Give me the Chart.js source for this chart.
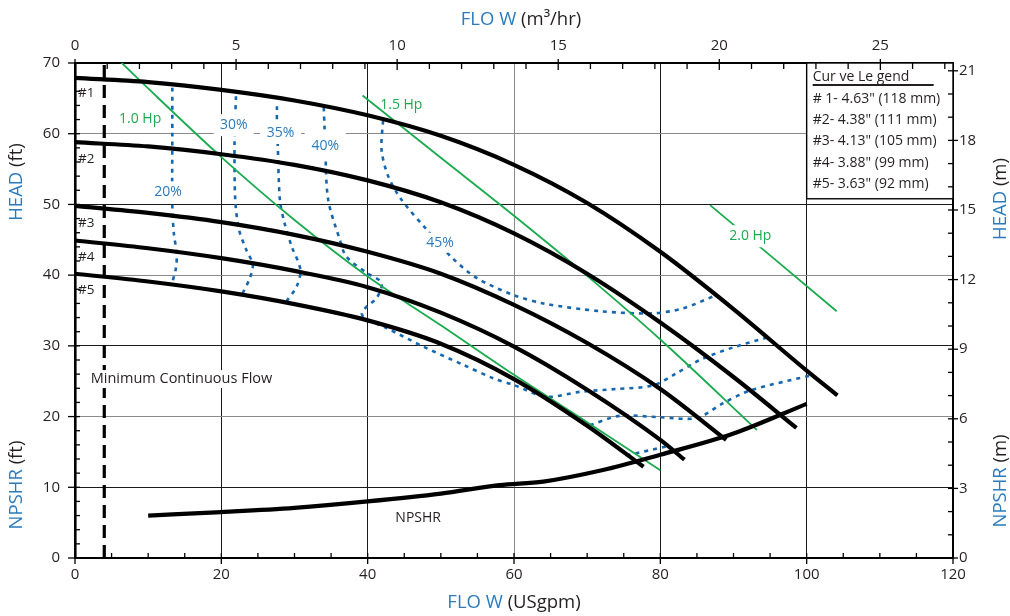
<!DOCTYPE html>
<html><head><meta charset="utf-8">
<script src="https://cdn.jsdelivr.net/npm/chart.js@4.4.0/dist/chart.umd.min.js"></script>
<style>html,body{margin:0;padding:0;background:#fff;}#wrap{width:1010px;height:616px;}</style>
</head><body><div id="wrap"><canvas id="c" width="1010" height="616"></canvas></div>
<script>
// ---- units / axis ticks ----
const FT_TO_M = 0.3048;
const M3H_TO_GPM = 4.40287;
const X_TICKS_GPM = [0,20,40,60,80,100,120];
const X_TICKS_M3H = [0,5,10,15,20,25];
const Y_TICKS_FT = [0,10,20,30,40,50,60,70];
const Y_TICKS_M = [0,3,6,9,12,15,18,21];
const MIN_FLOW_GPM = 4;

// ---- impeller head curves (USgpm, ft) ----
const IMP1_Q = [0,10,20,30,40,50,60,70,80,90,100,104.2];
const IMP1_H = [67.9,67.3,66.2,64.7,62.6,59.7,55.6,50.2,43.3,35.2,26.5,23.0];
const IMP2_Q = [0,10,20,30,40,50,60,70,80,90,98.6];
const IMP2_H = [58.8,58.2,57.1,55.6,53.4,50.3,45.9,40.2,33.3,25.6,18.4];
const IMP3_Q = [0,10,20,30,40,50,60,70,80,89.0];
const IMP3_H = [49.8,48.8,47.5,45.7,43.3,40.2,35.8,30.4,23.9,16.7];
const IMP4_Q = [0,10,20,30,40,50,60,70,80,83.3];
const IMP4_H = [44.9,43.8,42.4,40.6,38.3,34.7,29.9,23.8,16.7,13.9];
const IMP5_Q = [0,10,20,30,40,50,60,70,77.7];
const IMP5_H = [40.2,39.1,37.7,35.9,33.6,30.3,25.3,18.7,12.9];

// ---- NPSHR (USgpm, ft) ----
const NPSHR_Q = [10,20,30,40,50,58,64,72,80,90,100];
const NPSHR_H = [6.0,6.5,7.1,8.0,9.1,10.3,10.8,12.4,14.6,17.6,21.8];

// ---- horsepower lines ----
const HP10_Q = [5.9,10,20,30,40,50,60,70,80];
const HP10_H = [70.5,66.4,56.7,47.8,39.8,32.9,25.9,19.2,12.4];
const HP15_Q = [39.3,50,60,70,80,93.2];
const HP15_H = [65.4,56.6,48.4,39.9,30.9,18.1];
const HP20_Q = [86.8,104.1];
const HP20_H = [49.9,34.9];

// ---- efficiency contours ----
const EFF20_Q = [13.3,13.3,13.3,13.5,13.9,13.8,13.2];
const EFF20_H = [66.5,60,50,46,43,41,38.6];
const EFF30_Q = [22.0,21.9,21.8,21.9,22.4,23.4,24.3,23.9,22.8];
const EFF30_H = [65.3,62,58.7,50.7,46.5,43.6,41.5,39.6,37.2];
const EFF30R_Q = [75.4,80.9];
const EFF30R_H = [14.5,15.8];
const EFF35_Q = [27.6,27.6,27.7,28.0,28.6,29.6,30.8,30.3,28.9];
const EFF35_H = [63.9,61,58.7,50.7,47.5,44.1,40.8,38.4,36.3];
const EFF35R_Q = [70.4,74.5,80,85,88.6,92.3,100.9];
const EFF35R_H = [18.8,20.1,19.9,19.8,21.9,23.7,25.9];
const EFF40_Q = [34.0,34.1,34.2,34.6,36.2,37.1,39.9,41.9,41.2,39.9,39.2,39.6,42.6,47.6,53.1,57.2,59.9,64.4,69,74,79,82,85.4,90,95];
const EFF40_H = [63.7,61,58.2,50.7,45.0,42.6,40.3,38.9,36.7,35.6,34.6,33.9,32.5,29.9,27.3,25.4,24.5,22.8,23.5,23.9,24.4,26.0,28.0,29.8,31.3];
const EFF45_Q = [42.1,41.9,42.8,44.6,48.1,51.4,54.9,59.9,64,71.8,79,83.1,87.7];
const EFF45_H = [61.8,57.7,54.0,50.7,46.4,42.6,39.6,37.2,36.0,34.9,34.6,35.3,37.2];

// ---- legend text ----
const LEGEND_TITLE = 'Cur ve Le gend';
const LEGEND_LINES = ['# 1- 4.63" (118 mm)','#2- 4.38" (111 mm)','#3- 4.13" (105 mm)','#4- 3.88" (99 mm)','#5- 3.63" (92 mm)'];

const BLUE = '#2b7bbd', GREEN = '#19ab4e', EFFC = '#1767ae', INK = '#231f20';
const FONT = "'Open Sans', sans-serif";

function pts(q, h) { return q.map((v, i) => ({x: v, y: h[i]})); }

function curve(q, h) {
  return {data: pts(q, h), borderColor: '#000', borderWidth: 4.2, cubicInterpolationMode: 'monotone', pointRadius: 0, borderCapStyle: 'butt'};
}
function hp(q, h) {
  return {data: pts(q, h), borderColor: GREEN, borderWidth: 1.8, cubicInterpolationMode: 'monotone', pointRadius: 0};
}
function eff(q, h) {
  return {data: pts(q, h), borderColor: EFFC, borderWidth: 2.6, borderDash: [4, 5], tension: 0.3, pointRadius: 0};
}

const datasets = [
  curve(IMP1_Q, IMP1_H), curve(IMP2_Q, IMP2_H), curve(IMP3_Q, IMP3_H),
  curve(IMP4_Q, IMP4_H), curve(IMP5_Q, IMP5_H), curve(NPSHR_Q, NPSHR_H),
  {data: [{x: MIN_FLOW_GPM, y: Y_TICKS_FT[0]}, {x: MIN_FLOW_GPM, y: Y_TICKS_FT[Y_TICKS_FT.length - 1]}],
   borderColor: '#000', borderWidth: 3.2, borderDash: [13, 7], pointRadius: 0},
  hp(HP10_Q, HP10_H), hp(HP15_Q, HP15_H), hp(HP20_Q, HP20_H),
  eff(EFF20_Q, EFF20_H), eff(EFF30_Q, EFF30_H), eff(EFF30R_Q, EFF30R_H),
  eff(EFF35_Q, EFF35_H), eff(EFF35R_Q, EFF35R_H), eff(EFF40_Q, EFF40_H), eff(EFF45_Q, EFF45_H)
];

// annotation labels (position in data units)
const LABELS = [
  {t: '#1', q: 0.4, h: 65.8, c: INK, s: 13.5, a: 'left'},
  {t: '#2', q: 0.4, h: 56.4, c: INK, s: 13.5, a: 'left'},
  {t: '#3', q: 0.4, h: 47.4, c: INK, s: 13.5, a: 'left'},
  {t: '#4', q: 0.4, h: 42.6, c: INK, s: 13.5, a: 'left'},
  {t: '#5', q: 0.4, h: 37.9, c: INK, s: 13.5, a: 'left'},
  {t: 'Minimum Continuous Flow', q: 2.15, h: 25.3, c: INK, s: 14.5, a: 'left', bw: 190, bh: 18},
  {t: 'NPSHR', q: 46.9, h: 5.6, c: INK, s: 14, a: 'center'},
  {t: '1.0 Hp', q: 8.9, h: 62.1, c: GREEN, s: 14, a: 'center'},
  {t: '1.5 Hp', q: 44.6, h: 64.1, c: GREEN, s: 14, a: 'center'},
  {t: '2.0 Hp', q: 92.3, h: 45.5, c: GREEN, s: 14, a: 'center', bw: 50, bh: 22},
  {t: '20%', q: 12.7, h: 51.7, c: BLUE, s: 14, a: 'center', bw: 34, bh: 22},
  {t: '30%', q: 21.7, h: 61.2, c: BLUE, s: 14, a: 'center', bw: 40, bh: 22},
  {t: '35%', q: 28.1, h: 60.1, c: BLUE, s: 14, a: 'center', bw: 41, bh: 22},
  {t: '40%', q: 34.2, h: 58.2, c: BLUE, s: 14, a: 'center', bw: 41, bh: 29},
  {t: '45%', q: 49.9, h: 44.6, c: BLUE, s: 14, a: 'center', bw: 36, bh: 20}
];

function gridColorX(v) { if (v === 0 || v === 120) return 'rgba(0,0,0,0)'; return v === 60 ? '#8a8a8a' : '#1a1a1a'; }
function gridColorY(v) { if (v === 0 || v === 70) return 'rgba(0,0,0,0)'; return (v % 20 === 0) ? '#8a8a8a' : '#1a1a1a'; }

function twoTone(ctx, parts, cx, cy, size) {
  ctx.font = size + 'px ' + FONT;
  const widths = parts.map(p => ctx.measureText(p[0]).width);
  const total = widths.reduce((a, b) => a + b, 0);
  let x = cx - total / 2;
  ctx.textAlign = 'left'; ctx.textBaseline = 'middle';
  parts.forEach((p, i) => { ctx.fillStyle = p[1]; ctx.fillText(p[0], x, cy); x += widths[i]; });
}

const decor = {
  id: 'decor',
  beforeDraw(chart) {
    const ctx = chart.ctx; ctx.save(); ctx.fillStyle = '#fff'; ctx.fillRect(0, 0, chart.width, chart.height); ctx.restore();
  },
  afterDatasetsDraw(chart) {
    const ctx = chart.ctx, xs = chart.scales.x, ys = chart.scales.y, ca = chart.chartArea;
    ctx.save();
    LABELS.forEach(l => {
      const px = xs.getPixelForValue(l.q), py = ys.getPixelForValue(l.h);
      ctx.font = l.s + 'px ' + FONT;
      if (l.bw) {
        ctx.fillStyle = '#fff';
        const bx = l.a === 'left' ? px - 2 : px - l.bw / 2;
        ctx.fillRect(bx, py - l.bh / 2, l.bw, l.bh);
      }
      ctx.fillStyle = l.c; ctx.textAlign = l.a; ctx.textBaseline = 'middle';
      ctx.fillText(l.t, px, py);
    });
    // legend box
    const bl = xs.getPixelForValue(100), bt = ca.top, br = ca.right, bb = ys.getPixelForValue(50.8);
    ctx.fillStyle = '#fff'; ctx.fillRect(bl, bt, br - bl, bb - bt);
    ctx.strokeStyle = '#000'; ctx.lineWidth = 1.4; ctx.strokeRect(bl, bt, br - bl, bb - bt);
    ctx.fillStyle = INK; ctx.textAlign = 'left'; ctx.textBaseline = 'middle';
    ctx.font = '14px ' + FONT;
    ctx.fillText(LEGEND_TITLE, bl + 6, bt + 14);
    ctx.fillRect(bl + 6, bt + 21, 121, 2);
    LEGEND_LINES.forEach((s, i) => ctx.fillText(s, bl + 6, bt + 36 + i * 21.2));
    ctx.restore();
  },
  afterDraw(chart) {
    const ctx = chart.ctx, ca = chart.chartArea, s = chart.scales;
    ctx.save();
    ctx.strokeStyle = '#000'; ctx.lineWidth = 1.3;
    const line = (x1, y1, x2, y2) => { ctx.beginPath(); ctx.moveTo(x1, y1); ctx.lineTo(x2, y2); ctx.stroke(); };
    for (let v = 0; v <= 120; v += 5) {
      const p = s.x.getPixelForValue(v);
      if (v % 20 === 0) line(p, ca.bottom - 5, p, ca.bottom + 6); else line(p, ca.bottom - 5, p, ca.bottom);
    }
    for (let v = 0; v <= s.x2.max; v += 1) {
      const p = s.x2.getPixelForValue(v);
      if (v % 5 === 0) line(p, ca.top - 4, p, ca.top + 7); else line(p, ca.top, p, ca.top + 6);
    }
    for (let v = 0; v <= 70; v += 2) {
      const p = s.y.getPixelForValue(v);
      if (v % 10 === 0) line(ca.left - 7, p, ca.left + 5, p); else line(ca.left, p, ca.left + 5, p);
    }
    for (let v = 0; v <= s.y2.max; v += 1) {
      const p = s.y2.getPixelForValue(v);
      if (v % 3 === 0) line(ca.right - 5, p, ca.right + 5, p); else line(ca.right - 5, p, ca.right, p);
    }
    twoTone(ctx, [['FLO W', BLUE], [' (USgpm)', INK]], 514, 603, 18.5);
    twoTone(ctx, [['FLO W', BLUE], [' (m\u00B3/hr)', INK]], 521, 20, 18.5);
    const vert = (parts, x, y) => { ctx.save(); ctx.translate(x, y); ctx.rotate(-Math.PI / 2); twoTone(ctx, parts, 0, 0, 18.5); ctx.restore(); };
    vert([['HEAD', BLUE], [' (ft)', INK]], 17, 182);
    vert([['NPSHR', BLUE], [' (ft)', INK]], 17, 485);
    vert([['HEAD', BLUE], [' (m)', INK]], 1001, 199);
    vert([['NPSHR', BLUE], [' (m)', INK]], 1001, 481);
    ctx.restore();
  }
};

const tickFont = {family: FONT, size: 15};
new Chart(document.getElementById('c'), {
  type: 'line',
  data: {datasets},
  plugins: [decor],
  options: {
    responsive: false, animation: false,
    layout: {padding: 0},
    plugins: {legend: {display: false}, tooltip: {enabled: false}},
    elements: {point: {radius: 0}},
    scales: {
      x: {type: 'linear', position: 'bottom', min: 0, max: 120,
          afterFit: sc => { sc.height = 58; },
          afterBuildTicks: sc => { sc.ticks = X_TICKS_GPM.map(v => ({value: v})); },
          ticks: {padding: 8, font: tickFont, color: INK, maxRotation: 0, autoSkip: false},
          grid: {drawTicks: false, lineWidth: 1, color: c => gridColorX(c.tick.value)},
          border: {color: '#000', width: 2}},
      x2: {type: 'linear', position: 'top', min: 0, max: 120 / M3H_TO_GPM,
          afterFit: sc => { sc.height = 63; },
          afterBuildTicks: sc => { sc.ticks = X_TICKS_M3H.map(v => ({value: v})); },
          ticks: {padding: 8, font: tickFont, color: INK, maxRotation: 0, autoSkip: false},
          grid: {drawTicks: false, drawOnChartArea: false},
          border: {color: '#000', width: 2}},
      y: {type: 'linear', position: 'left', min: 0, max: 70,
          afterFit: sc => { sc.width = 75; },
          afterBuildTicks: sc => { sc.ticks = Y_TICKS_FT.map(v => ({value: v})); },
          ticks: {padding: 15, font: tickFont, color: INK, autoSkip: false},
          grid: {drawTicks: false, lineWidth: 1, color: c => gridColorY(c.tick.value)},
          border: {color: '#000', width: 2.6}},
      y2: {type: 'linear', position: 'right', min: 0, max: 70 * FT_TO_M,
          afterFit: sc => { sc.width = 57; },
          afterBuildTicks: sc => { sc.ticks = Y_TICKS_M.map(v => ({value: v})); },
          ticks: {padding: 6, font: tickFont, color: INK, autoSkip: false},
          grid: {drawTicks: false, drawOnChartArea: false},
          border: {color: '#000', width: 2}}
    }
  }
});
</script></body></html>
